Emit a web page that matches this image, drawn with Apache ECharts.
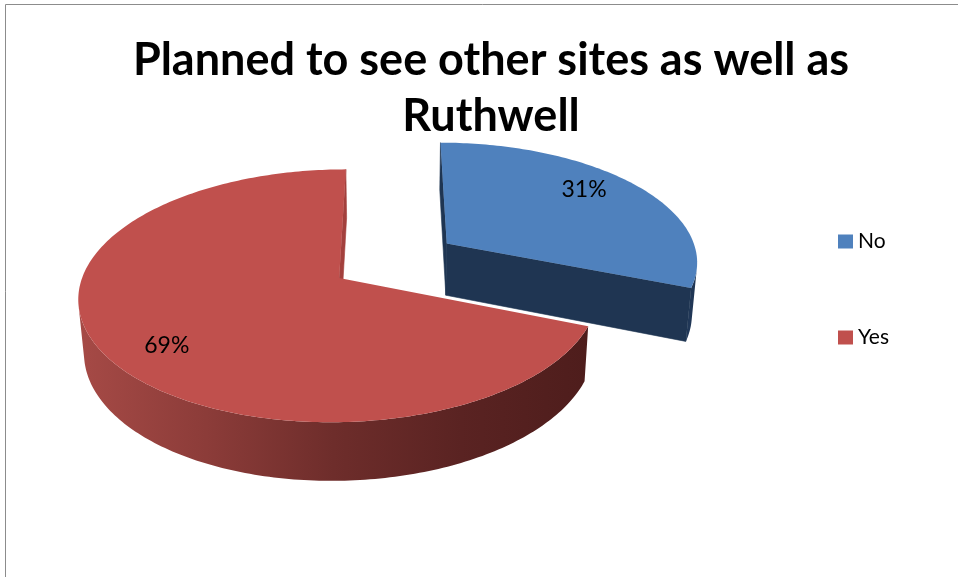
<!DOCTYPE html>
<html>
<head>
<meta charset="utf-8">
<script src="https://cdn.jsdelivr.net/npm/echarts@6/dist/echarts.min.js"></script>
<style>
  html, body { margin: 0; padding: 0; background: #ffffff; }
  #chart { width: 958px; height: 577px; }
</style>
</head>
<body>
<div id="chart"></div>
<script>
// ---- data ----
const categories = ['No', 'Yes'];
const shares = [31, 69];
const percentLabels = ['31%', '69%'];
const titleLines = ['Planned to see other sites as well as', 'Ruthwell'];

// ---- styling ----
const topColors = ['#4F81BD', '#C0504D'];
const cutColors = ['#1F3552', '#A3403D'];
const wallStops = [
  ['#22395A', '#1F3552'],
  ['#A64A46', '#8C3C39', '#6E2D2B', '#5A2322', '#4E1D1C']
];
const FONT = 'Lato, "Open Sans", "Liberation Sans", sans-serif';

// ---- 3D view of the disc (radius = 1) ----
const view = {
  cx: 394, cy: 260.5,      // screen position of the disc centre
  scale: 252,              // pixels per radius at the centre depth
  tilt: 28.2 * Math.PI / 180,
  persp: 0.1555,           // radius / camera distance
  depth: 0.24,             // slab thickness
  explode: 0.258,          // slice pull-out distance
  labelRadius: 0.79,
  labelTurn: -5.5 * Math.PI / 180
};

// world: X right, Y up, Z away from the viewer
function project(X, Y, Z) {
  const s = Math.sin(view.tilt), c = Math.cos(view.tilt);
  const w = 1 + view.persp * (-Y * s + Z * c);
  return [view.cx + view.scale * X / w, view.cy - view.scale * (Y * c + Z * s) / w];
}

function signedArea(pts) {
  let a = 0;
  for (let i = 0; i < pts.length; i++) {
    const p = pts[i], q = pts[(i + 1) % pts.length];
    a += p[0] * q[1] - q[0] * p[1];
  }
  return a / 2;
}

const total = shares.reduce((a, b) => a + b, 0);
function sliceAngles(i, value) {
  let before = 0;
  for (let k = 0; k < i; k++) before += shares[k];
  const a0 = before / total * 2 * Math.PI;
  const a1 = (before + value) / total * 2 * Math.PI;
  return [a0, a1, (a0 + a1) / 2];
}

// slices further back are painted first
const drawRank = (function () {
  const depthOf = shares.map((v, i) => Math.cos(sliceAngles(i, v)[2]));
  const order = depthOf.map((d, i) => i).sort((a, b) => depthOf[b] - depthOf[a]);
  const rank = [];
  order.forEach((idx, r) => { rank[idx] = r; });
  return rank;
})();

function wallFill(i) {
  const stops = wallStops[i];
  return {
    type: 'linear', x: 0, y: 0, x2: 1, y2: 0,
    colorStops: stops.map((c, k) => ({ offset: stops.length === 1 ? 0 : k / (stops.length - 1), color: c }))
  };
}

function makeRenderer(i) {
  return function (params, api) {
    const value = api.value(0);
    const [a0, a1, mid] = sliceAngles(i, value);
    const ox = view.explode * Math.sin(mid);
    const oz = view.explode * Math.cos(mid);
    const yb = -view.depth;
    const rim = (t, y) => project(ox + Math.sin(t), y, oz + Math.cos(t));
    const hub = (y) => project(ox, y, oz);
    const steps = Math.max(8, Math.ceil((a1 - a0) * 180 / Math.PI));
    const angles = [];
    for (let s = 0; s <= steps; s++) angles.push(a0 + (a1 - a0) * s / steps);
    const base = drawRank[i] * 10;
    const children = [];

    // outer curved wall: only the parts turned towards the viewer
    let run = [];
    const flush = () => {
      if (run.length > 1) {
        const upper = run.map(t => rim(t, 0));
        const lower = run.slice().reverse().map(t => rim(t, yb));
        children.push({
          type: 'polygon', z2: base,
          shape: { points: upper.concat(lower) },
          style: { fill: wallFill(i) }
        });
      }
      run = [];
    };
    for (let s = 0; s < steps; s++) {
      const quad = [rim(angles[s], 0), rim(angles[s + 1], 0), rim(angles[s + 1], yb), rim(angles[s], yb)];
      if (signedArea(quad) < 0) {
        if (!run.length) run.push(angles[s]);
        run.push(angles[s + 1]);
      } else {
        flush();
      }
    }
    flush();

    // radial cut faces
    const startFace = [hub(0), rim(a0, 0), rim(a0, yb), hub(yb)];
    const endFace = [hub(0), hub(yb), rim(a1, yb), rim(a1, 0)];
    [startFace, endFace].forEach(face => {
      if (signedArea(face) < 0) {
        children.push({
          type: 'polygon', z2: base + 1,
          shape: { points: face },
          style: { fill: cutColors[i], stroke: cutColors[i], lineWidth: 0.6 }
        });
      }
    });

    // top face
    children.push({
      type: 'polygon', z2: base + 2,
      shape: { points: [hub(0)].concat(angles.map(t => rim(t, 0))) },
      style: { fill: topColors[i] }
    });

    // percentage label on the top face
    const la = mid + view.labelTurn;
    const lp = project(ox + view.labelRadius * Math.sin(la), 0, oz + view.labelRadius * Math.cos(la));
    children.push({
      type: 'text', z2: 100,
      x: lp[0], y: lp[1],
      style: {
        text: percentLabels[i], fill: '#000000',
        fontSize: 23, fontFamily: FONT,
        align: 'center', verticalAlign: 'middle'
      }
    });

    return { type: 'group', children: children };
  };
}

const chart = echarts.init(document.getElementById('chart'), null, { renderer: 'canvas' });
chart.setOption({
  backgroundColor: '#ffffff',
  animation: false,
  graphic: [
    {
      type: 'rect', silent: true, z: -10,
      shape: { x: 5.5, y: 4.5, width: 1000, height: 1000 },
      style: { fill: 'none', stroke: '#8C8C8C', lineWidth: 1 }
    },
    {
      type: 'text', x: 491, y: 60,
      style: { text: titleLines[0], fill: '#000000', fontSize: 45, fontWeight: 'bold', fontFamily: FONT, align: 'center', verticalAlign: 'middle' }
    },
    {
      type: 'text', x: 491, y: 116,
      style: { text: titleLines[1], fill: '#000000', fontSize: 45, fontWeight: 'bold', fontFamily: FONT, align: 'center', verticalAlign: 'middle' }
    }
  ],
  legend: {
    orient: 'vertical',
    left: 838, top: 231,
    padding: 0,
    itemWidth: 15, itemHeight: 14,
    itemGap: 75,
    icon: 'rect',
    selectedMode: false,
    textStyle: { fontSize: 21, lineHeight: 20, fontFamily: FONT, color: '#000000' },
    data: categories.map((name, i) => ({ name: name, itemStyle: { color: topColors[i] } }))
  },
  series: categories.map((name, i) => ({
    type: 'custom',
    name: name,
    coordinateSystem: 'none',
    silent: true,
    itemStyle: { color: topColors[i] },
    data: [[shares[i]]],
    renderItem: makeRenderer(i)
  }))
});
</script>
</body>
</html>
